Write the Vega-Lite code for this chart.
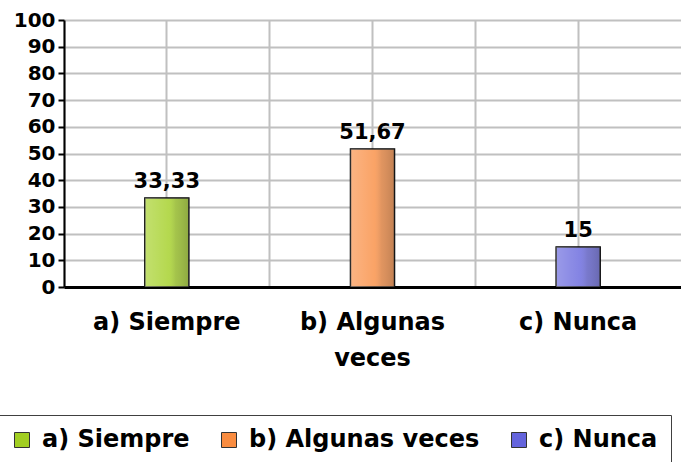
{
  "$schema": "https://vega.github.io/schema/vega-lite/v6.json",
  "autosize": "none",
  "width": 617,
  "height": 267,
  "padding": {"left": 64, "top": 20, "right": 0, "bottom": 175},
  "background": "white",
  "config": {
    "locale": {"number": {"decimal": ",", "thousands": ".", "grouping": [3], "currency": ["", ""]}},
    "font": "DejaVu Sans",
    "view": {"stroke": null}
  },
  "data": {
    "values": [
      {"categoria": "a) Siempre", "porcentaje": 33.33},
      {"categoria": "b) Algunas veces", "porcentaje": 51.67},
      {"categoria": "c) Nunca", "porcentaje": 15}
    ]
  },
  "encoding": {
    "y": {
      "field": "porcentaje",
      "type": "quantitative",
      "scale": {"domain": [0, 100], "nice": false},
      "axis": {
        "title": null,
        "values": [0, 10, 20, 30, 40, 50, 60, 70, 80, 90, 100],
        "labelFont": "DejaVu Sans",
        "labelFontSize": 20,
        "labelFontWeight": "bold",
        "labelColor": "black",
        "labelPadding": 3,
        "tickColor": "black",
        "tickWidth": 2,
        "tickSize": 6,
        "domainColor": "black",
        "domainWidth": 2,
        "gridColor": "#c0c0c0",
        "gridWidth": 2,
        "gridOpacity": 1
      }
    }
  },
  "layer": [
    {
      "mark": {"type": "bar", "width": 44, "stroke": "black", "strokeWidth": 1.5},
      "encoding": {
        "x": {
          "field": "categoria",
          "type": "nominal",
          "sort": null,
          "scale": {"paddingInner": 0, "paddingOuter": 0},
          "axis": {
            "title": null,
            "labelAngle": 0,
            "labelFont": "DejaVu Sans",
            "labelFontSize": 24,
            "labelFontWeight": "bold",
            "labelColor": "black",
            "labelPadding": 35,
            "labelLineHeight": 36,
            "labelBaseline": "middle",
            "labelDx": -4,
            "labelExpr": "datum.value == 'b) Algunas veces' ? ['b) Algunas', 'veces'] : datum.value",
            "ticks": false,
            "domainColor": "black",
            "domainWidth": 3,
            "gridColor": "#c0c0c0",
            "gridWidth": 2,
            "grid": true
          }
        },
        "color": {
          "field": "categoria",
          "type": "nominal",
          "sort": null,
          "scale": {"range": ["#a2cf22", "#f98c40", "#6464dc"]},
          "legend": {
            "title": null,
            "orient": "none",
            "direction": "horizontal",
            "legendX": -67,
            "legendY": 395,
            "padding": 13,
            "strokeColor": "#404040",
            "symbolType": "square",
            "symbolSize": 225,
            "symbolStrokeColor": "#333333",
            "symbolStrokeWidth": 1,
            "symbolOpacity": 1,
            "labelFont": "DejaVu Sans",
            "labelFontSize": 24,
            "labelFontWeight": "bold",
            "labelColor": "black",
            "labelOffset": 8,
            "labelLimit": 600,
            "columnPadding": 27,
            "labelExpr": "datum.value == 'c) Nunca' ? 'c) Nunca\u2003\u2003\u2003\u2003' : datum.value"
          }
        }
      }
    },
    {
      "mark": {
        "type": "bar",
        "width": 44,
        "fill": {
          "gradient": "linear",
          "x1": 0, "y1": 0, "x2": 1, "y2": 0,
          "stops": [
            {"offset": 0, "color": "rgba(255,255,255,0.35)"},
            {"offset": 0.55, "color": "rgba(255,255,255,0.2)"},
            {"offset": 0.7, "color": "rgba(170,170,170,0.3)"},
            {"offset": 1, "color": "rgba(110,110,110,0.4)"}
          ]
        }
      },
      "encoding": {
        "x": {"field": "categoria", "type": "nominal", "sort": null, "axis": null}
      }
    },
    {
      "mark": {"type": "text", "baseline": "bottom", "dy": -6, "font": "DejaVu Sans", "fontSize": 21, "fontWeight": "bold", "color": "black"},
      "encoding": {
        "x": {
          "field": "categoria",
          "type": "nominal",
          "sort": null,
          "axis": {
            "orient": "top",
            "bandPosition": 0,
            "labels": false,
            "ticks": false,
            "domain": false,
            "title": null,
            "grid": true,
            "gridColor": "#c0c0c0",
            "gridWidth": 2
          }
        },
        "text": {"field": "porcentaje", "type": "quantitative", "format": ",.2~f"}
      }
    }
  ],
  "resolve": {"axis": {"x": "independent"}}
}
